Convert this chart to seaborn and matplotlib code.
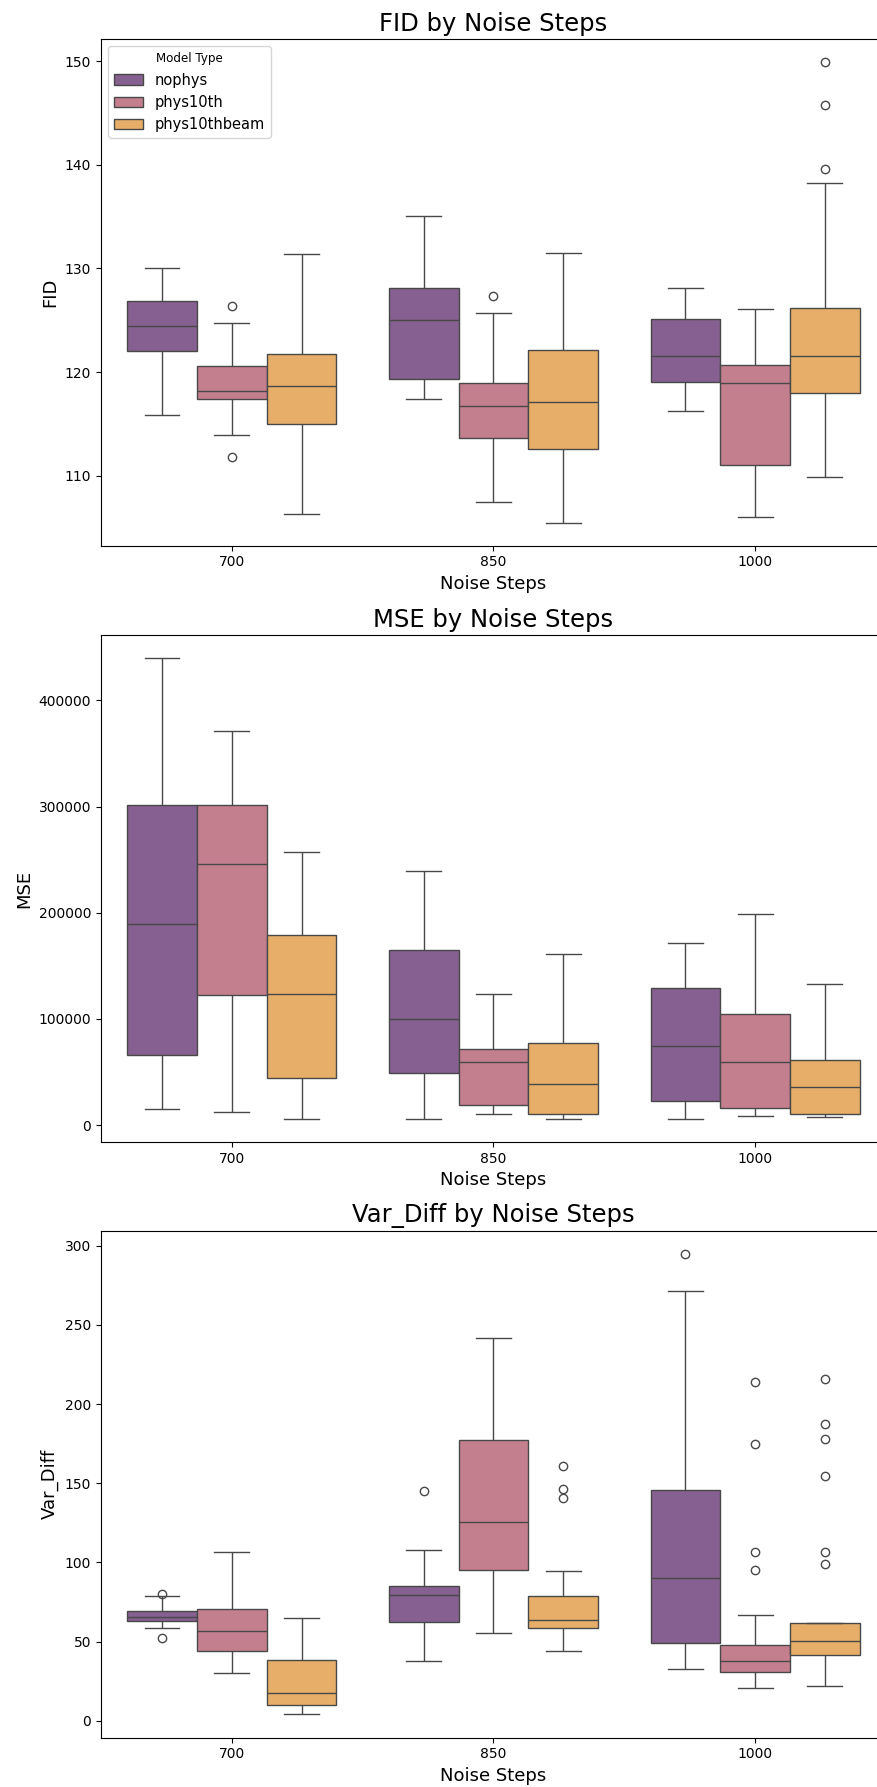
import numpy as np
import pandas as pd
import matplotlib
matplotlib.use("Agg")
import matplotlib.pyplot as plt
import seaborn as sns

noise_steps = [700, 850, 1000]
model_types = ["nophys", "phys10th", "phys10thbeam"]

# FID samples per model, one list per noise step (700, 850, 1000)
fid_nophys = [
    [115.9, 122.0, 124.5, 126.9, 130.0],
    [117.4, 119.3, 125.0, 128.1, 135.1],
    [116.3, 119.1, 121.6, 125.1, 128.1],
]
fid_phys10th = [
    [111.8, 113.9, 117.4, 117.8, 118.2, 119.5, 120.6, 124.7, 126.4],
    [107.5, 110.0, 113.7, 115.0, 116.7, 118.0, 119.0, 125.7, 127.3],
    [106.0, 111.1, 119.0, 120.7, 126.1],
]
fid_phys10thbeam = [
    [106.3, 115.0, 118.7, 121.8, 131.4],
    [105.5, 112.6, 117.1, 122.1, 131.5],
    [109.9, 112.0, 114.5, 116.8, 118.0, 119.0, 120.2, 121.0, 121.6, 122.5,
     123.8, 125.0, 126.2, 138.2, 139.6, 145.8, 149.9],
]

# MSE samples
mse_nophys = [
    [15400, 66300, 189200, 301600, 439800],
    [5900, 49200, 100200, 165400, 239400],
    [5900, 22700, 74300, 128800, 171400],
]
mse_phys10th = [
    [12600, 122200, 245700, 301600, 371000],
    [10800, 18800, 59300, 71900, 123900],
    [8400, 16100, 59300, 105100, 198600],
]
mse_phys10thbeam = [
    [5900, 44000, 123200, 179100, 256900],
    [5900, 10800, 38400, 77100, 161300],
    [7700, 10100, 35600, 61800, 133000],
]

# Var_Diff samples
var_nophys = [
    [52.2, 58.4, 63.0, 64.5, 65.6, 67.5, 69.5, 79.0, 80.3],
    [37.5, 55.0, 62.5, 72.0, 79.1, 82.0, 85.3, 107.5, 145.0],
    [32.9, 40.0, 49.0, 70.0, 90.4, 120.0, 145.9, 271.4, 295.0],
]
var_phys10th = [
    [30.0, 43.8, 56.7, 70.4, 106.3],
    [55.5, 95.0, 125.5, 177.6, 241.6],
    [20.4, 23.0, 25.5, 27.0, 29.0, 30.5, 32.0, 33.5, 35.0, 36.5, 37.5, 39.0,
     41.0, 43.0, 45.5, 47.6, 66.6, 95.4, 106.3, 175.0, 213.7],
]
var_phys10thbeam = [
    [3.9, 10.1, 17.5, 38.0, 64.7],
    [43.8, 50.0, 54.0, 57.0, 58.7, 60.0, 61.5, 62.8, 63.7, 66.0, 70.0, 74.0,
     78.8, 94.5, 140.6, 146.2, 161.1],
    [22.1, 27.0, 31.0, 34.5, 37.0, 39.5, 41.6, 43.0, 44.5, 46.0, 47.5, 49.0,
     50.5, 52.0, 54.0, 56.0, 58.0, 60.0, 61.8, 98.8, 106.3, 154.6, 177.9,
     187.5, 215.9],
]


def long_frame(metric, per_model):
    rows = []
    for model, groups in zip(model_types, per_model):
        for step, vals in zip(noise_steps, groups):
            for v in vals:
                rows.append({"Noise Steps": step, "Model Type": model, metric: v})
    return pd.DataFrame(rows)


panels = [
    ("FID", long_frame("FID", [fid_nophys, fid_phys10th, fid_phys10thbeam])),
    ("MSE", long_frame("MSE", [mse_nophys, mse_phys10th, mse_phys10thbeam])),
    ("Var_Diff", long_frame("Var_Diff", [var_nophys, var_phys10th, var_phys10thbeam])),
]

# inferno palette, desaturated (seaborn default 0.75) and blended with white (alpha 0.7)
base = sns.color_palette("inferno", 3, desat=0.75)
alpha = 0.7
palette = [tuple(alpha * c + (1 - alpha) for c in col) for col in base]

W, H = 877, 1787
fig = plt.figure(figsize=(W / 100, H / 100), dpi=100)

left = 101 / W
width = 785 / W
tops = [39.1, 635.1, 1230.7]
bottoms = [545.6, 1141.9, 1737.5]

for i, (metric, df) in enumerate(panels):
    ax = fig.add_axes([left, 1 - bottoms[i] / H, width, (bottoms[i] - tops[i]) / H])
    sns.boxplot(data=df, x="Noise Steps", y=metric, hue="Model Type",
                order=noise_steps, hue_order=model_types, palette=palette,
                saturation=1, ax=ax, legend=(i == 0))
    ax.set_title(f"{metric} by Noise Steps", fontsize=17.5)
    ax.set_xlabel("Noise Steps", fontsize=13)
    ax.set_ylabel(metric, fontsize=13)
    ax.tick_params(labelsize=10)
    if i == 0:
        leg = ax.legend(title="Model Type", loc="upper left", fontsize=10.5,
                        title_fontsize=8.6)

fig.savefig("out.png", dpi=100)
